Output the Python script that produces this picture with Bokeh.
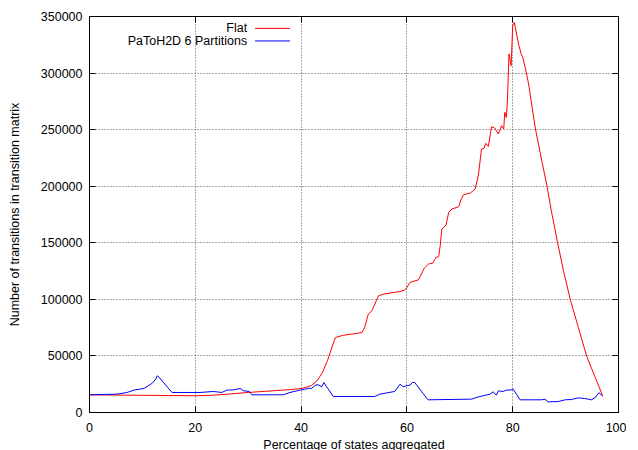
from bokeh.plotting import figure
from bokeh.models import (Range1d, LinearAxis, SingleIntervalTicker, BasicTickFormatter, Label,
                          CustomJSTickFormatter)
from bokeh.embed import file_html
from bokeh.resources import INLINE

# Flat series
flat_x = [0, 5, 10, 15, 20, 23, 26, 30, 35, 38, 40, 41, 42, 43, 44, 45, 46, 46.5, 48, 50, 51.5,
          52, 52.7, 53.4, 54.6, 55.6, 58.4, 59.5, 60.0, 60.6, 62.2, 63.3, 64.1, 64.9, 65.5, 66.0,
          66.3, 66.6, 67.4, 67.9, 68.5, 69.8, 70.2, 70.7, 72.0, 72.9, 73.5, 74.1, 74.6, 74.9, 75.4,
          76.0, 76.6, 77.3, 77.9, 78.3, 78.5, 78.8, 79.0, 79.3, 79.7, 80.0, 80.3, 81.1, 81.6, 81.9,
          82.5, 83.0, 84.3, 85.5, 86.5, 87.3, 88.5, 89.6, 90.9, 92.4, 94.0, 95.6, 97.0]
flat_y = [15600, 15400, 15200, 15000, 14800, 15200, 16200, 17700, 19300, 20300, 21200, 22300,
          24000, 28000, 35000, 46000, 60000, 66300, 68300, 69500, 70700,
          75000, 87000, 90000, 103000, 104700, 106700, 108000, 110500, 115000, 117300, 127700,
          131200, 132100, 137000, 137700,
          147400, 162100, 165700, 176800, 179800, 181900, 187800, 192500, 194000, 197500, 209300,
          232900, 233500, 237900, 235200,
          252600, 251400, 246100, 253500, 250600, 265300, 260800, 275600, 316900, 306500, 341900,
          344800, 325700, 316900, 313900,
          302100, 290400, 250600, 222500, 199800, 178300, 149800, 125300, 99600, 75300, 49500,
          31000, 14800]

# PaToH2D 6 Partitions series
patoh_x = [0, 5.2, 7.1, 8.4, 10.3, 11.9, 12.5, 12.8, 13.1, 14.0, 15.6, 20.9, 23.4, 25.0, 26.0,
           27.2, 28.5, 29.1, 30.2, 30.7, 36.6, 37.9, 39.8, 40.7, 41.6, 41.9, 42.8, 43.2, 43.9,
           44.3, 44.7, 46.1, 53.9, 54.9, 57.7, 58.0, 58.7, 59.3, 59.9, 60.6, 61.0, 61.5, 61.8,
           62.8, 64.0, 72.2, 73.5, 75.7, 76.3, 76.9, 77.3, 78.2, 78.8, 79.5, 80.1, 81.4, 85.4,
           86.1, 86.7, 88.6, 89.9, 91.1, 92.4, 93.6, 94.9, 95.6, 96.3, 97.0]
patoh_y = [15650, 16200, 17700, 19800, 21200, 26000, 29500, 32400, 31500, 26500, 17700, 17700,
           18600, 17700, 19800, 20000, 21200, 19200, 18600, 15650, 15650, 17700, 19800, 20600,
           21500, 21000, 24400, 24500, 22700, 26500, 23600, 14100, 14100, 16200, 18600, 20600,
           25000, 22700, 23600, 24200, 26500, 26500, 24500, 18300, 11200, 11800, 13800, 16200,
           18300, 15300, 19100, 18600, 19800, 19800, 20600, 11200, 11200, 11800, 9400, 9700,
           11200, 11500, 12900, 12400, 11200, 13200, 17500, 14500]

x_ticks_interval = 20
y_ticks_interval = 50000
series_names = ["Flat", "PaToH2D 6 Partitions"]
series_colors = ["#ff0000", "#0000ff"]

FONT = "Liberation Sans"
FS = "12.5px"

p = figure(frame_width=529, frame_height=396, output_backend="svg", toolbar_location=None,
           x_range=Range1d(0, 100), y_range=Range1d(0, 350000),
           min_border_left=89, min_border_right=8, min_border_top=16, min_border_bottom=38)
p.background_fill_color = "white"
p.border_fill_color = "white"
p.outline_line_color = "black"
p.outline_line_width = 1

p.xaxis.ticker = SingleIntervalTicker(interval=x_ticks_interval)
p.yaxis.ticker = SingleIntervalTicker(interval=y_ticks_interval)
p.yaxis.formatter = BasicTickFormatter(use_scientific=False)

for ax in (p.xaxis[0], p.yaxis[0]):
    ax.major_tick_in = 6
    ax.major_tick_out = 0
    ax.minor_tick_in = 0
    ax.minor_tick_out = 0
    ax.axis_line_color = "black"
    ax.major_tick_line_color = "black"
    ax.major_label_text_font = FONT
    ax.major_label_text_font_size = FS
    ax.major_label_text_color = "black"
    ax.axis_label_text_font = FONT
    ax.axis_label_text_font_size = FS
    ax.axis_label_text_font_style = "normal"
    ax.axis_label_text_color = "black"
    ax.major_label_standoff = 7

p.xaxis.major_label_standoff = 10
p.xaxis.axis_label = "Percentage of states aggregated"
p.yaxis.axis_label = "Number of transitions in transition matrix"
p.xaxis.axis_label_standoff = 3
p.yaxis.axis_label_standoff = 16

for loc, interval in (("above", x_ticks_interval), ("right", y_ticks_interval)):
    ax = LinearAxis(ticker=SingleIntervalTicker(interval=interval),
                    formatter=CustomJSTickFormatter(code="return ''"))
    ax.major_tick_in = 6
    ax.major_tick_out = 0
    ax.minor_tick_in = 0
    ax.minor_tick_out = 0
    ax.axis_line_color = None
    ax.major_label_standoff = 0
    ax.major_tick_line_color = "black"
    p.add_layout(ax, loc)

for g in (p.xgrid[0], p.ygrid[0]):
    g.grid_line_color = "#555555"
    g.grid_line_dash = "1 2"
    g.grid_line_width = 1

p.line(flat_x, flat_y, line_color=series_colors[0], line_width=1)
p.line(patoh_x, patoh_y, line_color=series_colors[1], line_width=1)

# manual gnuplot-style legend (text right, sample line after)
leg_y = [339500, 328400]
for name, color, yy in zip(series_names, series_colors, leg_y):
    p.add_layout(Label(x=29.8, y=yy, text=name, text_align="right", text_baseline="middle",
                       text_font=FONT, text_font_size=FS, text_color="black"))
    p.segment(x0=[31.3], y0=[yy], x1=[37.9], y1=[yy], line_color=color, line_width=1)

html = file_html(p, INLINE)
html = html.replace("</head>", "<style>html,body{overflow:hidden;}</style></head>", 1)
open("out.html", "w").write(html)
